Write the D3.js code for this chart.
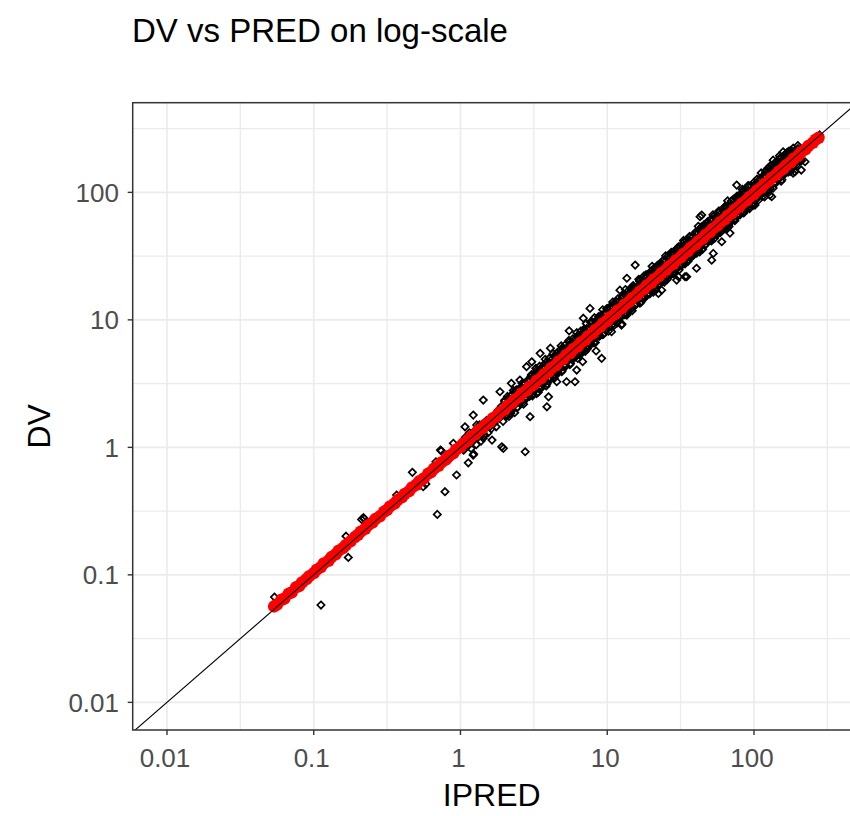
<!DOCTYPE html>
<html>
<head>
<meta charset="utf-8">
<script src="https://cdn.jsdelivr.net/npm/d3@7"></script>
<style>
  body { margin: 0; background: #fff; }
  text { font-family: "Liberation Sans", Arial, sans-serif; }
</style>
</head>
<body>
<svg id="chart" width="850" height="816"></svg>
<script>
// Labels and axis breaks
const titleText = "DV vs PRED on log-scale";
const xLabel = "IPRED";
const yLabel = "DV";
const majorBreaks = [0.01, 0.1, 1, 10, 100];
const breakLabels = ["0.01", "0.1", "1", "10", "100"];
const minorBreaks = [0.0316, 0.316, 3.16, 31.6, 316];

// Observed concentrations: [IPRED, DV]
const observed = [
  [0.054,0.067],[0.112,0.058],[0.166,0.201],[0.172,0.137],[0.212,0.272],[0.218,0.281],[0.221,0.276],
  [0.367,0.423],[0.47,0.637],[0.557,0.491],[0.581,0.515],[0.695,0.298],[0.784,0.449],[0.73,0.953],
  [0.74,0.94],[0.68,0.771],[0.894,1.075],[0.94,0.607],[0.86,0.83],
  [1.073,1.45],[1.222,1.79],[1.43,2.35],[1.858,2.73],[2.22,3.18],[2.54,3.37],[2.82,4.29],[1.64,1.14],
  [1.91,1.01],[2.76,0.924],[2.98,1.74],[1.22,0.87],[1.04,0.98],[1.43,1.18],[1.29,1.5],[1.13,0.757],
  [1.23,0.886],[1.96,0.982],
  [1.02,1.1],[1.05,0.95],[1.08,1.2],[1.12,1.02],[1.15,1.3],[1.18,0.98],[1.22,1.12],[1.25,1.35],
  [1.28,1.05],[1.32,1.2],[1.35,1.5],[1.38,1.12],[1.42,1.3],[1.46,1.25],[1.5,1.62],[1.54,1.3],
  [1.58,1.45],[1.62,1.4],[1.66,1.7],[1.7,1.55],[1.75,1.45],[1.8,1.95],[1.85,1.7],[1.9,2.1],
  [1.95,1.6],[2.0,2.3],[2.05,1.8],[2.1,2.4],[2.15,2.0],[2.2,1.85],[2.25,2.6],[2.3,2.1],[2.36,2.7],
  [2.42,2.05],[2.48,2.85],[2.55,2.3],[2.6,2.95],[2.66,2.25],[2.72,3.1],[2.8,2.5],[2.86,3.3],
  [2.92,2.6],[2.98,3.4],
  [3.05,3.72],[3.1,2.6],[3.15,3.53],[3.2,2.88],[3.26,4.17],[3.3,2.64],[3.36,3.9],[3.4,2.96],
  [3.46,4.33],[3.5,2.87],[3.56,3.84],[3.62,3.37],[3.68,4.38],[3.72,3.2],[3.78,4.91],[3.84,3.03],
  [3.9,4.45],[3.96,3.48],[4.02,4.98],[4.08,3.39],[4.15,4.57],[4.22,3.84],[4.28,5.44],[4.35,3.48],
  [4.42,5.17],[4.48,3.85],[4.55,5.51],[4.62,3.88],[4.7,5.31],[4.78,4.3],[4.85,6.26],[4.92,3.99],
  [5.0,5.9],[5.08,4.42],[5.16,6.35],[5.24,4.35],[5.32,5.85],[5.4,4.97],[5.48,6.9],[5.56,4.45],
  [5.65,6.5],[5.74,5.05],[5.82,7.1],[5.9,4.96],[6.0,6.72],[6.1,5.49],[6.2,7.94],[6.3,4.98],
  [6.4,7.42],[6.5,5.59],[6.6,8.18],[6.7,5.49],[6.8,7.41],[6.9,6.42],[7.0,8.4],[7.1,6.04],
  [7.2,9.36],[7.32,5.93],[7.44,8.48],[7.56,6.65],[7.68,9.6],[7.8,6.47],[7.92,8.79],[8.05,7.25],
  [8.18,10.4],[8.3,6.64],[8.44,9.87],[8.58,7.46],[8.72,10.6],[8.86,7.44],[9.0,10.2],[9.15,8.33],
  [9.3,12.0],[9.45,7.75],[9.6,11.3],[9.76,8.39],[9.92,12.2],
  [3.06,4.69],[3.49,5.46],[3.88,2.08],[3.98,2.49],[4.53,3.27],[5.28,3.27],[6.03,3.27],[6.19,4.04],
  [9.16,4.99],[4.1,6.0],[5.5,8.2],[7.63,12.3],[6.87,10.3],[8.4,5.7],[6.8,4.7],
  [10.1,12.1],[10.3,8.76],[10.5,11.6],[10.7,9.84],[10.9,13.8],[11.1,8.99],[11.3,13.0],[11.6,10.2],
  [11.8,14.6],[12.0,9.96],[12.3,13.2],[12.5,11.9],[12.8,15.2],[13.0,11.2],[13.3,17.3],[13.6,10.9],
  [13.9,15.7],[14.2,12.6],[14.5,17.7],[14.8,12.4],[15.1,18.1],[15.4,13.1],[15.7,17.3],[16.0,14.7],
  [16.4,20.8],[16.7,13.5],[17.1,19.7],[17.4,15.3],[17.8,22.1],[18.2,15.1],[18.6,19.9],[19.0,18.1],
  [19.4,23.1],[19.8,17.0],[20.2,26.3],[20.6,16.5],[21.1,23.8],[21.5,19.1],[22.0,26.8],[22.5,18.9],
  [23.0,27.6],[23.5,20.0],[24.0,26.4],[24.5,22.5],[25.0,31.8],[25.6,20.7],[26.1,30.0],[26.7,23.5],
  [27.3,33.9],[27.9,23.2],[28.5,30.5],[29.1,27.6],[29.7,35.3],
  [10.6,12.9],[11.0,9.35],[11.5,14.0],[12.1,10.5],[12.7,15.6],[13.2,11.0],[13.8,16.8],[14.4,12.0],
  [15.0,18.6],[15.9,13.4],[16.6,20.3],[17.6,14.6],[18.4,22.6],[19.2,16.1],[20.0,24.3],[20.9,17.4],
  [21.8,26.2],[22.8,19.2],[23.8,29.0],[24.8,20.5],[25.9,31.6],[27.0,22.4],[28.2,34.1],[29.4,24.7],
  [12.6,9.27],[10.7,8.07],[15.5,26.9],[13.6,21.2],[12.2,17.1],[29.7,20.5],[22.3,16.1],[12.5,9.1],
  [23.5,17.1],[30.6,21.8],
  [30.3,36.4],[31.0,26.4],[31.7,34.9],[32.4,29.8],[33.1,42.0],[33.9,27.5],[34.7,39.9],[35.5,31.2],
  [36.3,45.0],[37.1,30.8],[38.0,40.7],[38.9,37.0],[39.8,47.4],[40.7,35.0],[41.7,54.2],[42.7,34.2],
  [43.7,49.4],[44.7,39.8],[45.7,55.8],[46.8,39.3],[47.9,57.5],[49.0,41.7],[50.1,55.1],[51.3,47.2],
  [52.5,66.7],[53.7,43.5],[55.0,63.3],[56.2,49.5],[57.5,71.3],[58.9,48.9],[60.3,64.5],[61.7,58.6],
  [63.1,75.1],[64.6,55.6],[66.1,85.9],[67.6,54.1],[69.2,78.2],[70.8,63.0],[72.4,88.3],[74.1,62.2],
  [75.9,91.1],[77.6,66.0],[79.4,87.3],[81.3,74.8],[83.2,105.7],[85.1,68.9],[87.1,100.2],[89.1,78.4],
  [91.2,113.1],[93.3,77.4],[95.5,102.2],[97.7,92.8],
  [30.8,37.6],[32.0,26.6],[33.5,40.9],[35.0,29.1],[36.7,44.8],[38.4,31.9],[40.2,49.0],[42.2,35.0],
  [44.2,53.9],[46.2,38.3],[48.4,59.0],[50.7,42.1],[53.1,64.8],[55.6,46.1],[58.2,71.0],[61.0,50.6],
  [63.9,78.0],[66.9,55.5],[70.0,85.4],[73.3,60.8],[76.7,93.6],[80.3,66.6],[84.1,102.6],[88.1,73.1],
  [92.2,112.5],[96.6,80.2],
  [34.8,21.8],[40.6,25.4],[51.5,29.4],[60.3,41.0],[63.4,52.2],[44.0,66.4],[68.6,47.9],[52.8,33.2],
  [33.9,21.8],[65.7,52.2],[76.2,114],[42.9,64.4],
  [100,120],[103,87.6],[106,116.6],[109,100.3],[112,142],[115,93.2],[118,135.7],[122,107.4],
  [125,155],[129,107.1],[133,142.3],[137,130.2],[141,167.8],[145,124.7],[149,193.7],[153,122.4],
  [158,178.5],[162,144.2],[167,203.7],[172,144.5],[177,212.4],[182,154.7],[188,206.8],[193,177.6],
  [199,232.8],[205,180.4],[211,177.2],
  [102,112],[107,95],[111,125],[116,104],[121,134],[126,112],[131,146],[136,118],[142,158],[147,130],
  [152,170],[157,138],[163,182],[168,150],[174,195],[180,158],[186,205],[192,170],[198,218],[204,178],
  [120,148],[128,160],[138,170],[150,186],[162,198],[172,210],[185,222],
  [222.7,173.8],[210,149.6],[190,145],[184.5,141.6],[132,92.4],[128.5,95.3],[118,92],[101.6,79.5],
  [98.9,79.5],[135,179],[158,208],[280,282],
  // upper edge of the main cloud
  [2.0,2.34],[2.09,2.51],[2.19,2.52],[2.29,2.79],[2.40,2.83],[2.51,2.86],[2.63,3.18],[2.75,3.19],
  [2.88,3.37],[3.02,3.62],[3.16,3.63],[3.31,4.04],[3.47,4.09],[3.63,4.14],[3.80,4.6],[3.98,4.62],
  [4.17,4.88],[4.37,5.24],[4.57,5.26],[4.79,5.84],[5.01,5.91],[5.25,5.99],[5.50,6.66],[5.75,6.67],
  [6.03,7.06],[6.31,7.57],[6.61,7.6],[6.92,8.44],[7.24,8.54],[7.59,8.65],[7.94,9.61],[8.32,9.65],
  [8.71,10.2],[9.12,10.9],[9.55,11.0],[10.0,12.2],[10.5,12.4],[11.0,12.5],[11.5,13.9],[12.0,13.9],
  [12.6,14.7],[13.2,15.8],[13.8,15.9],[14.5,17.7],[15.1,17.8],[15.8,18.0],[16.6,20.1],[17.4,20.2],
  [18.2,21.3],[19.1,22.9],[20.0,23.0],[20.9,25.5],[21.9,25.8],[22.9,26.1],[24.0,29.0],[25.1,29.1],
  [26.3,30.8],[27.5,33.0],[28.8,33.1],[30.2,36.8],[31.6,37.3],[33.1,37.7],[34.7,42.0],[36.3,42.1],
  [38.0,44.5],[39.8,47.8],[41.7,48.0],[43.7,53.3],[45.7,53.9],[47.9,54.6],[50.1,60.6],[52.5,60.9],
  [55.0,64.4],[57.5,69.0],[60.3,69.3],[63.1,77.0],[66.1,78.0],[69.2,78.9],[72.4,87.6],[75.9,88.0],
  [79.4,92.9],[83.2,99.8],[87.1,100.2],[91.2,111.3],[95.5,112.7],[100,114],[105,127],[110,127.6],
  [115,134.6],[120,144],[126,144.9],[132,161],[138,162.8],[145,165.3],[151,182.7],[158,183.3],
  [166,194.2],[174,208.8],[182,209.3],[191,213.9],[200,220],
  // lower edge of the main cloud
  [2.05,1.74],[2.14,1.75],[2.24,1.95],[2.34,1.87],[2.45,2.06],[2.57,2.26],[2.69,2.18],[2.82,2.43],
  [2.95,2.51],[3.09,2.53],[3.24,2.82],[3.39,2.71],[3.55,2.98],[3.72,3.27],[3.89,3.15],[4.07,3.5],
  [4.27,3.63],[4.47,3.67],[4.68,4.07],[4.9,3.92],[5.13,4.31],[5.37,4.73],[5.62,4.55],[5.89,5.07],
  [6.17,5.24],[6.46,5.3],[6.76,5.88],[7.08,5.66],[7.41,6.22],[7.76,6.83],[8.13,6.59],[8.51,7.32],
  [8.91,7.57],[9.33,7.65],[9.77,8.5],[10.2,8.16],[10.7,8.99],[11.2,9.86],[11.7,9.48],[12.3,10.6],
  [12.9,11.0],[13.5,11.1],[14.1,12.3],[14.8,11.8],[15.5,13.0],[16.2,14.3],[17.0,13.8],[17.8,15.3],
  [18.6,15.8],[19.5,16.0],[20.4,17.7],[21.4,17.1],[22.4,18.8],[23.4,20.6],[24.5,19.8],[25.7,22.1],
  [26.9,22.9],[28.2,23.1],[29.5,25.7],[30.9,24.7],[32.4,27.2],[33.9,29.8],[35.5,28.8],[37.2,32.0],
  [38.9,33.1],[40.7,33.4],[42.7,37.1],[44.7,35.8],[46.8,39.3],[49.0,43.1],[51.3,41.6],[53.7,46.2],
  [56.2,47.8],[58.9,48.3],[61.7,53.7],[64.6,51.7],[67.6,56.8],[70.8,62.3],[74.1,60.0],[77.6,66.7],
  [81.3,69.1],[85.1,69.8],[89.1,77.5],[93.3,74.6],[97.7,82.1],[102,89.8],[107,86.7],[112,96.3],
  [117,99.5],[123,100.9],[129,112.2],[135,108],[141,118.4],[148,130.2],[155,125.6],[162,139.3],
  [170,144.5],[178,146],[186,161.8],[195,163.8],[204,175.4]
];

// Population predictions: [IPRED, PRED]
const predicted = [
  [0.0537,0.0565],[0.0562,0.0585],[0.0603,0.0638],[0.0631,0.0652],[0.0676,0.0712],[0.0708,0.0728],
  [0.0759,0.0801],[0.0794,0.0815],[0.0832,0.0871],[0.0891,0.0925],[0.0933,0.0978],[0.1,0.103],
  [0.105,0.11],[0.112,0.115],[0.117,0.123],[0.126,0.129],[0.132,0.138],[0.141,0.145],[0.148,0.155],
  [0.158,0.162],[0.166,0.172],[0.178,0.183],[0.191,0.198],[0.2,0.206],[0.209,0.218],[0.224,0.229],
  [0.234,0.244],[0.251,0.257],[0.263,0.274],[0.282,0.288],[0.302,0.313],[0.316,0.323],[0.331,0.344],
  [0.355,0.362],[0.372,0.386],[0.398,0.405],[0.417,0.432],[0.447,0.454],[0.468,0.485],[0.501,0.509],
  [0.525,0.543],[0.562,0.57],[0.603,0.622],[0.631,0.64],[0.661,0.682],[0.708,0.716],[0.741,0.763],
  [0.794,0.8],[0.832,0.856],[0.891,0.896],[0.933,0.958],[1,1.005],[1.047,1.075],[1.122,1.125],
  [1.175,1.205],[1.259,1.26],[1.318,1.35],[1.413,1.41],[1.479,1.51],[1.585,1.58],[1.66,1.69],
  [1.778,1.77],[1.862,1.89],[1.995,1.98],[2.089,2.12],[2.239,2.22],[2.344,2.37],[2.512,2.49],
  [2.63,2.66],[2.818,2.79],[2.951,2.98],[3.162,3.12],[3.311,3.34],[3.548,3.5],[3.715,3.74],
  [3.981,3.93],[4.169,4.2],[4.467,4.4],[4.677,4.71],[5.012,4.94],[5.248,5.28],[5.623,5.54],
  [5.888,5.92],[6.31,6.21],[6.607,6.64],[7.079,6.97],[7.413,7.44],[7.943,7.82],[8.318,8.35],
  [8.913,8.77],[9.333,9.36],[10,9.84],[10.47,10.5],[11.22,11.03],[11.75,11.78],[12.59,12.38],
  [13.18,13.2],[14.13,13.88],[14.79,14.8],[15.85,15.56],[16.6,16.6],[17.78,17.44],[18.62,18.6],
  [19.95,19.55],[20.89,20.85],[22.39,21.93],[23.44,23.35],[25.12,24.6],[26.3,26.2],[28.18,27.55],
  [29.51,29.35],[31.62,30.9],[33.11,32.9],[35.48,34.65],[37.15,36.9],[39.81,38.85],[41.69,41.35],
  [44.67,43.55],[46.77,46.35],[50.12,48.85],[52.48,51.95],[56.23,54.75],[58.88,58.3],[63.1,61.45],
  [66.07,65.3],[70.79,68.9],[74.13,73.3],[79.43,77.3],[83.18,82.2],[89.13,86.7],[93.33,92.2],
  [100,97.2],[104.7,103.4],[112.2,109],[117.5,115.9],[125.9,122.3],[131.8,129.9],[141.3,137.2],
  [147.9,145.7],[158.5,153.9],[166,163.5],[177.8,172.6],[186.2,183.4],[199.5,193.7],[208.9,205.7],
  [223.9,217.4],[234.4,230.8],[251.2,244],[263,259],[275.4,268]
];

const svg = d3.select("#chart");
const panel = { left: 132.7, top: 102.7, right: 856.7, bottom: 730 };

const x = d3.scaleLog().domain([0.00584, 501]).range([panel.left, panel.right]);
const y = d3.scaleLog().domain([0.00607, 505]).range([panel.bottom, panel.top]);

const inX = v => v >= x.domain()[0] && v <= x.domain()[1];
const inY = v => v >= y.domain()[0] && v <= y.domain()[1];

svg.append("defs").append("clipPath").attr("id", "panel-clip")
  .append("rect")
  .attr("x", panel.left).attr("y", panel.top)
  .attr("width", panel.right - panel.left).attr("height", panel.bottom - panel.top);

// Panel background
svg.append("rect")
  .attr("x", panel.left).attr("y", panel.top)
  .attr("width", panel.right - panel.left).attr("height", panel.bottom - panel.top)
  .attr("fill", "#fff");

// Grid
const grid = svg.append("g");
grid.selectAll(".vminor").data(minorBreaks.filter(inX)).join("line")
  .attr("x1", d => x(d)).attr("x2", d => x(d))
  .attr("y1", panel.top).attr("y2", panel.bottom)
  .attr("stroke", "#ebebeb").attr("stroke-width", 1.3);
grid.selectAll(".hminor").data(minorBreaks.filter(inY)).join("line")
  .attr("y1", d => y(d)).attr("y2", d => y(d))
  .attr("x1", panel.left).attr("x2", panel.right)
  .attr("stroke", "#ebebeb").attr("stroke-width", 1.3);
grid.selectAll(".vmajor").data(majorBreaks).join("line")
  .attr("x1", d => x(d)).attr("x2", d => x(d))
  .attr("y1", panel.top).attr("y2", panel.bottom)
  .attr("stroke", "#ebebeb").attr("stroke-width", 1.6);
grid.selectAll(".hmajor").data(majorBreaks).join("line")
  .attr("y1", d => y(d)).attr("y2", d => y(d))
  .attr("x1", panel.left).attr("x2", panel.right)
  .attr("stroke", "#ebebeb").attr("stroke-width", 1.6);

const plot = svg.append("g").attr("clip-path", "url(#panel-clip)");

// Observed DV: open diamonds
const diamond = d3.symbol().type(d3.symbolDiamond2).size(34)();
plot.append("g").selectAll("path").data(observed).join("path")
  .attr("d", diamond)
  .attr("transform", d => `translate(${x(d[0])},${y(d[1])})`)
  .attr("fill", "none").attr("stroke", "#000").attr("stroke-width", 1.7);

// Predictions: filled red dots
plot.append("g").selectAll("circle").data(predicted).join("circle")
  .attr("cx", d => x(d[0])).attr("cy", d => y(d[1]))
  .attr("r", 6.2).attr("fill", "#ff0000");

// Line of identity
plot.append("line")
  .attr("x1", x(0.001)).attr("y1", y(0.001))
  .attr("x2", x(1000)).attr("y2", y(1000))
  .attr("stroke", "#000").attr("stroke-width", 1.1);

// Panel border
svg.append("rect")
  .attr("x", panel.left).attr("y", panel.top)
  .attr("width", panel.right - panel.left).attr("height", panel.bottom - panel.top)
  .attr("fill", "none").attr("stroke", "#333").attr("stroke-width", 1.5);

// Axis ticks and labels
const xAxis = svg.append("g");
xAxis.selectAll("line").data(majorBreaks).join("line")
  .attr("x1", d => x(d)).attr("x2", d => x(d))
  .attr("y1", panel.bottom).attr("y2", panel.bottom + 5)
  .attr("stroke", "#333").attr("stroke-width", 1.4);
xAxis.selectAll("text").data(majorBreaks).join("text")
  .attr("x", d => x(d) - 2).attr("y", 767)
  .attr("text-anchor", "middle").attr("font-size", 26).attr("fill", "#4d4d4d")
  .text((d, i) => breakLabels[i]);

const yAxis = svg.append("g");
yAxis.selectAll("line").data(majorBreaks).join("line")
  .attr("y1", d => y(d)).attr("y2", d => y(d))
  .attr("x1", panel.left - 5).attr("x2", panel.left)
  .attr("stroke", "#333").attr("stroke-width", 1.4);
yAxis.selectAll("text").data(majorBreaks).join("text")
  .attr("x", 119).attr("y", d => y(d)).attr("dy", "0.36em")
  .attr("text-anchor", "end").attr("font-size", 26).attr("fill", "#4d4d4d")
  .text((d, i) => breakLabels[i]);

// Titles
svg.append("text")
  .attr("x", (panel.left + panel.right) / 2 - 3).attr("y", 806)
  .attr("text-anchor", "middle").attr("font-size", 32).attr("fill", "#000")
  .text(xLabel);
svg.append("text")
  .attr("transform", `translate(50,${(panel.top + panel.bottom) / 2 + 10}) rotate(-90)`)
  .attr("text-anchor", "middle").attr("font-size", 32).attr("fill", "#000")
  .text(yLabel);
svg.append("text")
  .attr("x", 132).attr("y", 42)
  .attr("font-size", 33).attr("fill", "#000")
  .text(titleText);
</script>
</body>
</html>
